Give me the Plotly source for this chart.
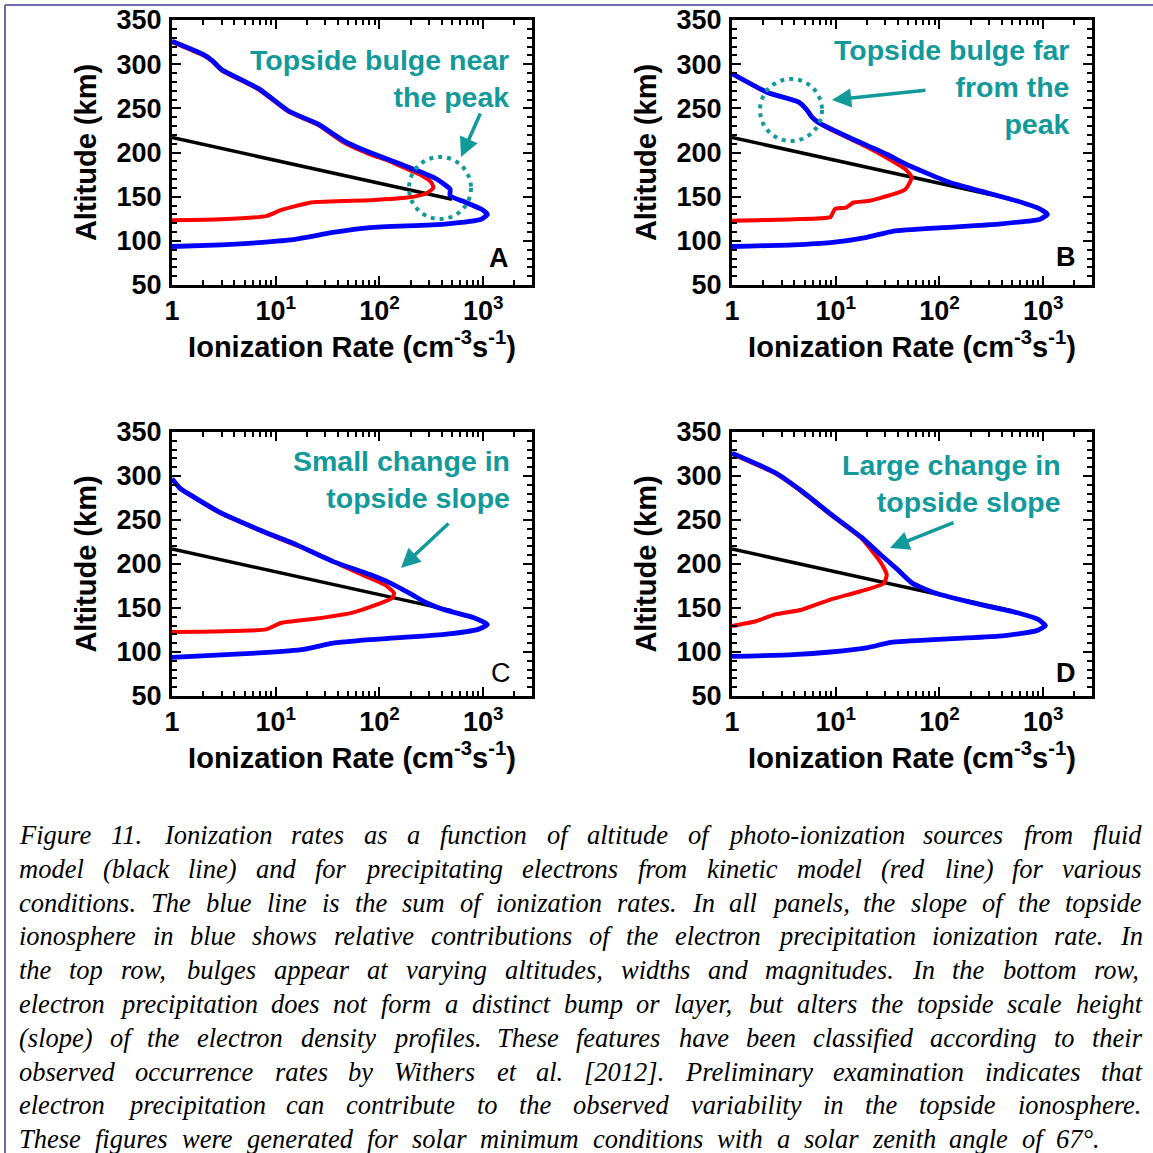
import plotly.graph_objects as go

# ---------------- data ----------------
# photo-ionization (black) - same in all panels
BLACK_X = [1.0, 10.0, 100.0, 500.0]
BLACK_ALT = [217, 191, 165, 147]

# Panel A
A_BLUE_X = [1.0, 2.0, 2.45, 3.0, 6.9, 13.3, 25.7, 45.7, 81, 158, 237, 355, 479, 479, 631, 955, 1096, 955, 422, 81, 35.5, 15.8, 6.9, 3.0, 1.0]
A_BLUE_ALT = [326, 311, 304, 294, 272, 247, 232, 213, 200, 187, 179, 170, 158.5, 151, 145, 136, 130, 124.5, 119, 115, 109.5, 102, 98, 95.5, 93.6]
A_RED_X = [1.0, 3.0, 8.1, 11.2, 21.9, 81, 186, 282, 331, 316, 257, 186, 123, 81, 45.7, 25.7, 13.3, 6.9, 3.0, 2.45, 2.0, 1.0]
A_RED_ALT = [123.4, 124.5, 128, 134.7, 143.4, 146, 149, 153.6, 160, 166, 173.6, 181, 190.6, 198, 211, 231, 246, 271, 293, 303, 310, 325]

# Panel B
B_BLUE_X = [1.0, 2.2, 4.4, 5.2, 5.9, 6.8, 13.5, 31, 47, 126, 245, 562, 933, 1096, 933, 372, 107, 36, 20, 8.9, 3.9, 1.0]
B_BLUE_ALT = [289.4, 268, 257, 249, 240, 234, 217, 198, 187, 166, 156.6, 145, 136, 130, 124.5, 119, 115, 111, 104, 98, 95.5, 93.6]
B_RED_X = [1.0, 3.9, 8.9, 9.8, 12.6, 14.8, 20.4, 36, 47, 54, 47, 31, 20.4, 8.9, 6.8, 5.9, 5.2, 4.4, 2.2, 1.0]
B_RED_ALT = [122.6, 124.5, 127, 136, 137.7, 143.4, 145, 152.8, 158.5, 171.7, 181, 194, 205.7, 226, 234, 240, 249, 257, 268, 289]

# Panel C
C_BLUE_X = [1.0, 1.2, 1.6, 3.0, 6.9, 15.8, 35.5, 81, 129, 200, 282, 422, 813, 1096, 891, 422, 81, 35.5, 18.6, 6.9, 1.0]
C_BLUE_ALT = [297, 286, 276.6, 257.7, 239, 222, 203, 188, 178, 166, 156, 148, 139, 131.3, 125.7, 120, 114, 110, 103, 99, 94]
C_RED_X = [1.0, 8.1, 11.2, 23.7, 54, 95, 133, 138, 112, 81, 45.7, 28, 15.8, 6.9, 3.0, 1.6, 1.2, 1.0]
C_RED_ALT = [122.6, 125.7, 133, 137.7, 144.5, 154, 161.5, 167, 176.6, 184, 197, 208.7, 221, 238.5, 257, 276, 285.5, 296.5]

# Panel D
D_BLUE_X = [1.0, 2.6, 4.7, 8.9, 17.4, 26.3, 40, 55, 91, 245, 562, 891, 1050, 851, 372, 107, 34, 20.4, 8.9, 3.9, 1.0]
D_BLUE_ALT = [326, 304, 283, 257, 231, 212, 193, 178, 167, 154, 144.6, 137, 130, 124, 118, 114.6, 111, 105, 100, 97, 95]
D_RED_X = [1.0, 1.7, 2.6, 4.7, 8.9, 17.4, 29, 31, 27.5, 23.4, 17.4, 8.9, 4.7, 2.6, 1.0]
D_RED_ALT = [129.6, 135, 142.7, 148, 159.6, 169, 178, 187.6, 200.7, 212, 230, 256, 282, 303, 325]

XTICK_VALS = [1, 10, 100, 1000]
XTICK_TEXT = ["1", "10<sup>1</sup>", "10<sup>2</sup>", "10<sup>3</sup>"]
YTICK_VALS = [50, 100, 150, 200, 250, 300, 350]

PANEL_LETTERS = ["A", "B", "C", "D"]
NOTES = ["Topside bulge near<br>the peak",
         "Topside bulge far<br>from the<br>peak",
         "Small change in<br>topside slope",
         "Large change in<br>topside slope"]

CAPTION = [
    "Figure 11. Ionization rates as a function of altitude of photo-ionization sources from fluid",
    "model (black line) and for precipitating electrons from kinetic model (red line) for various",
    "conditions. The blue line is the sum of ionization rates. In all panels, the slope of the topside",
    "ionosphere in blue shows relative contributions of the electron precipitation ionization rate. In",
    "the top row, bulges appear at varying altitudes, widths and magnitudes. In the bottom row,",
    "electron precipitation does not form a distinct bump or layer, but alters the topside scale height",
    "(slope) of the electron density profiles. These features have been classified according to their",
    "observed occurrence rates by Withers et al. [2012]. Preliminary examination indicates that",
    "electron precipitation can contribute to the observed variability in the topside ionosphere.",
    "These figures were generated for solar minimum conditions with a solar zenith angle of 67°.",
]

# ---------------- layout helpers ----------------
W = H = 1153
def px(x):
    return x / W
def py(y):
    return 1 - y / H

SANS = "Liberation Sans, Arial, sans-serif"
SERIF = "Liberation Serif, Times New Roman, serif"
TEAL = "#12999a"
BLUE = "#0000ff"
RED = "#ff0000"

FRAMES = [(172, 532, 20, 285), (732, 1092, 20, 285), (172, 532, 432, 696), (732, 1092, 432, 696)]
DATA = [(A_BLUE_X, A_BLUE_ALT, A_RED_X, A_RED_ALT),
        (B_BLUE_X, B_BLUE_ALT, B_RED_X, B_RED_ALT),
        (C_BLUE_X, C_BLUE_ALT, C_RED_X, C_RED_ALT),
        (D_BLUE_X, D_BLUE_ALT, D_RED_X, D_RED_ALT)]

fig = go.Figure()
layout = dict(width=W, height=H, margin=dict(l=0, r=0, t=0, b=0, pad=0), autosize=False,
              paper_bgcolor="white", plot_bgcolor="white", showlegend=False)

for i, (l, r, t, b) in enumerate(FRAMES):
    n = "" if i == 0 else str(i + 1)
    xref, yref = "x" + n, "y" + n
    bx, balt, rx, ralt = DATA[i]
    line_shape = dict(shape="spline", smoothing=0.5)
    fig.add_trace(go.Scatter(x=BLACK_X, y=BLACK_ALT, mode="lines", xaxis=xref, yaxis=yref,
                             line=dict(color="black", width=3.5), hoverinfo="skip"))
    fig.add_trace(go.Scatter(x=rx, y=ralt, mode="lines", xaxis=xref, yaxis=yref,
                             line=dict(color=RED, width=4, **line_shape), hoverinfo="skip"))
    fig.add_trace(go.Scatter(x=bx, y=balt, mode="lines", xaxis=xref, yaxis=yref,
                             line=dict(color=BLUE, width=4.8, **line_shape), hoverinfo="skip"))
    layout["xaxis" + n] = dict(
        type="log", range=[0, 3.47], domain=[px(l), px(r)], anchor=yref, automargin=False,
        showline=True, linewidth=3, linecolor="black", mirror="ticks",
        ticks="inside", ticklen=9, tickwidth=2, tickcolor="black",
        tickvals=XTICK_VALS, ticktext=XTICK_TEXT, ticklabelstandoff=0,
        tickfont=dict(family=SANS, size=27, color="black", weight="bold"),
        minor=dict(ticks="inside", ticklen=5, tickwidth=1.5, tickcolor="black", dtick="D1", showgrid=False),
        showgrid=False, zeroline=False,
        title=dict(text="Ionization Rate (cm<sup>-3</sup>s<sup>-1</sup>)", standoff=0,
                   font=dict(family=SANS, size=29, color="black", weight="bold")))
    layout["yaxis" + n] = dict(
        range=[50, 350], domain=[py(b), py(t)], anchor=xref, automargin=False,
        showline=True, linewidth=3, linecolor="black", mirror="ticks",
        ticks="inside", ticklen=9, tickwidth=2, tickcolor="black",
        tickvals=YTICK_VALS, ticklabelstandoff=2,
        tickfont=dict(family=SANS, size=27, color="black", weight="bold"),
        minor=dict(ticks="inside", ticklen=5, tickwidth=1.5, tickcolor="black", dtick=10, showgrid=False),
        showgrid=False, zeroline=False,
        title=dict(text="Altitude (km)", standoff=12,
                   font=dict(family=SANS, size=29, color="black", weight="bold")))

annotations = []
shapes = []

# panel letters
LETTER_POS = [(499, 258, "bold"), (1066, 257, "bold"), (501, 673, "normal"), (1066, 673, "bold")]
for letter, (x, y, wgt) in zip(PANEL_LETTERS, LETTER_POS):
    annotations.append(dict(xref="paper", yref="paper", x=px(x), y=py(y), text=letter, showarrow=False,
                            xanchor="center", yanchor="middle",
                            font=dict(family=SANS, size=27, color="black", weight=wgt)))

# teal notes
NOTE_POS = [(511, 79), (1072, 87), (512, 480), (1063, 484)]
for txt, (x, y) in zip(NOTES, NOTE_POS):
    annotations.append(dict(xref="paper", yref="paper", x=px(x), y=py(y), text=txt, showarrow=False,
                            xanchor="right", yanchor="middle", align="right",
                            font=dict(family=SANS, size=28.5, color=TEAL, weight="bold")))

# arrows (tail -> head) in pixels
ARROWS = [((481, 112), (461, 157)), ((927, 90), (832, 100)), ((450, 522), (401, 568)), ((955, 522), (890, 548))]
for (tx, ty), (hx, hy) in ARROWS:
    annotations.append(dict(xref="paper", yref="paper", x=px(hx), y=py(hy), ax=tx - hx, ay=ty - hy,
                            text="", showarrow=True, arrowhead=2, arrowsize=1.1, arrowwidth=3.5,
                            arrowcolor=TEAL, standoff=0, startstandoff=0))

# dotted circles
for (cx, cy, rr) in [(440, 188, 31), (791, 110, 31)]:
    shapes.append(dict(type="circle", xref="paper", yref="paper",
                       x0=px(cx - rr), x1=px(cx + rr), y0=py(cy + rr), y1=py(cy - rr),
                       line=dict(color=TEAL, width=4, dash="4px,5px")))

# page border (top and left)
shapes.append(dict(type="line", xref="paper", yref="paper", x0=px(5), x1=1, y0=py(5), y1=py(5),
                   line=dict(color="#6a6aa6", width=2)))
shapes.append(dict(type="line", xref="paper", yref="paper", x0=px(5), x1=px(5), y0=py(5), y1=0,
                   line=dict(color="#6a6aa6", width=2)))

# caption, justified word by word (Times italic metrics)
TI = {' ': 250, '.': 250, ',': 250, '-': 333, '(': 333, ')': 333, '[': 389, ']': 389, '°': 400,
      '0': 500, '1': 500, '2': 500, '3': 500, '4': 500, '5': 500, '6': 500, '7': 500, '8': 500, '9': 500,
      'a': 500, 'b': 500, 'c': 444, 'd': 500, 'e': 444, 'f': 278, 'g': 500, 'h': 500, 'i': 278,
      'j': 278, 'k': 444, 'l': 278, 'm': 722, 'n': 500, 'o': 500, 'p': 500, 'q': 500, 'r': 389,
      's': 389, 't': 278, 'u': 500, 'v': 444, 'w': 667, 'x': 444, 'y': 444, 'z': 389,
      'F': 611, 'I': 333, 'T': 556, 'W': 833, 'P': 611}
CAP_SIZE = 26.5
CAP_LEFT, CAP_RIGHT, LAST_RIGHT = 19, 1142, 1100
BASE0, LINE_H = 844, 33.8

def tw(s):
    return sum(TI.get(c, 500) for c in s) * CAP_SIZE / 1000.0

for li, line in enumerate(CAPTION):
    words = line.split(" ")
    widths = [tw(w) for w in words]
    right = CAP_RIGHT if li < len(CAPTION) - 1 else LAST_RIGHT
    gap = (right - CAP_LEFT - sum(widths)) / (len(words) - 1)
    yc = BASE0 + li * LINE_H - 0.34 * CAP_SIZE
    xpos = CAP_LEFT
    for w, wd in zip(words, widths):
        annotations.append(dict(xref="paper", yref="paper", x=px(xpos), y=py(yc), text="<i>" + w + "</i>",
                                showarrow=False, xanchor="left", yanchor="middle", borderpad=0, borderwidth=0,
                                font=dict(family=SERIF, size=CAP_SIZE, color="black")))
        xpos += wd + gap

layout["annotations"] = annotations
layout["shapes"] = shapes
fig.update_layout(**layout)
fig.write_html(
    "out.html",
    config={"displayModeBar": False, "responsive": False},
    post_script=("document.documentElement.style.margin='0';document.documentElement.style.overflow='hidden';"
                 "document.body.style.margin='0';document.body.style.padding='0';document.body.style.overflow='hidden';"
                 "var gd=document.getElementById('{plot_id}');gd.style.position='absolute';gd.style.left='0px';gd.style.top='0px';"),
)
